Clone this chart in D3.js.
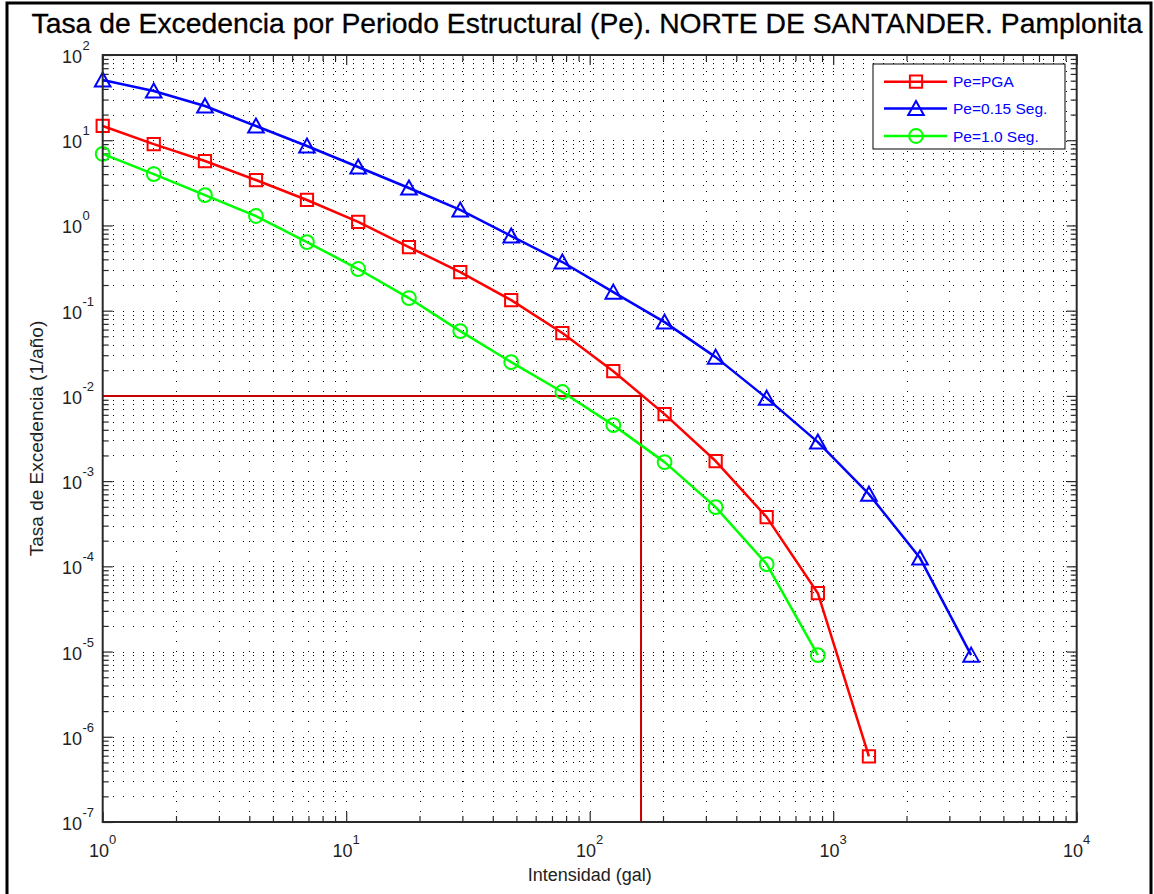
<!DOCTYPE html>
<html>
<head>
<meta charset="utf-8">
<script src="https://cdn.jsdelivr.net/npm/d3@7"></script>
<style>
  html, body { margin: 0; padding: 0; background: #fff; }
  svg { display: block; font-family: "Liberation Sans", Arial, sans-serif; }
</style>
</head>
<body>
<svg id="chart" width="1154" height="894"></svg>
<script>
// Intensity levels (gal)
const intensity = [1, 1.62, 2.63, 4.26, 6.9, 11.2, 18.1, 29.4, 47.6, 77.2, 125, 203, 329, 533, 865, 1402, 2273, 3685];

// Exceedance rates (1/año) for each structural period
const ratePGA = [14.7, 9.0, 5.7, 3.41, 1.99, 1.10, 0.557, 0.284, 0.133, 0.0546, 0.0195, 0.00611, 0.00172, 0.000378, 4.84e-5, 5.9e-7];
const rate015 = [50.9, 37.8, 25.2, 14.7, 8.55, 4.85, 2.75, 1.52, 0.751, 0.372, 0.165, 0.0734, 0.0285, 0.00941, 0.00287, 0.000703, 0.000125, 9.08e-6];
const rate10 = [6.9, 4.01, 2.27, 1.29, 0.638, 0.308, 0.1406, 0.0576, 0.0249, 0.0111, 0.00454, 0.00167, 0.000495, 0.000106, 9.08e-6];

const seriesNames = ["Pe=PGA", "Pe=0.15 Seg.", "Pe=1.0 Seg."];
const seriesColors = ["#ff0000", "#0000ff", "#00ff00"];
const seriesMarkers = ["square", "triangle", "circle"];

// Design reference: rate 0.01 1/año and its intensity
const refRate = 0.01;
const refIntensity = 162.5;

// Decade tick exponents
const xExponents = [0, 1, 2, 3, 4];
const yExponents = [2, 1, 0, -1, -2, -3, -4, -5, -6, -7];

const titleText = "Tasa de Excedencia por Periodo Estructural (Pe). NORTE DE SANTANDER. Pamplonita";
const xLabelText = "Intensidad (gal)";
const yLabelText = "Tasa de Excedencia (1/año)";

const svg = d3.select("#chart");
const L = 102.7, R = 1076.7, T = 55, B = 822;

const x = d3.scaleLog().domain([1, 1e4]).range([L, R]);
const y = d3.scaleLog().domain([1e-7, 1e2]).range([B, T]);

// outer figure frame
svg.append("path")
  .attr("d", "M7,900 L7,3 L1151,3 L1151,900")
  .attr("fill", "none").attr("stroke", "#000").attr("stroke-width", 3);

// minor/major tick values
const xMinor = [], yMinor = [];
for (let e = 0; e < 4; e++) for (let k = 2; k <= 9; k++) xMinor.push(k * Math.pow(10, e));
for (let e = -7; e < 2; e++) for (let k = 2; k <= 9; k++) yMinor.push(k * Math.pow(10, e));
const xMajor = xExponents.map(e => Math.pow(10, e));
const yMajor = yExponents.map(e => Math.pow(10, e));

// dotted grid
const grid = svg.append("g").attr("stroke", "#000").attr("stroke-width", 1)
  .attr("stroke-dasharray", "1,9").attr("shape-rendering", "crispEdges");
grid.selectAll("line.gx").data(xMinor.concat(xMajor.slice(1, -1))).join("line")
  .attr("x1", d => Math.round(x(d)) + 0.5).attr("x2", d => Math.round(x(d)) + 0.5)
  .attr("y1", B).attr("y2", T);
grid.selectAll("line.gy").data(yMinor.concat(yMajor.slice(1, -1))).join("line")
  .attr("y1", d => Math.round(y(d)) + 0.5).attr("y2", d => Math.round(y(d)) + 0.5)
  .attr("x1", L).attr("x2", R);

// axes with inward ticks on all four sides
function drawAxis(gen, transform) {
  const g = svg.append("g").attr("transform", transform);
  g.call(gen);
  g.selectAll("text").remove();
  g.select(".domain").remove();
  g.selectAll("line").attr("stroke", "#2a2a2a").attr("stroke-width", 1.2);
  return g;
}
drawAxis(d3.axisBottom(x).tickValues(xMajor).tickSize(-10), `translate(0,${B})`);
drawAxis(d3.axisBottom(x).tickValues(xMinor).tickSize(-6), `translate(0,${B})`);
drawAxis(d3.axisTop(x).tickValues(xMajor).tickSize(-10), `translate(0,${T})`);
drawAxis(d3.axisTop(x).tickValues(xMinor).tickSize(-6), `translate(0,${T})`);
drawAxis(d3.axisLeft(y).tickValues(yMajor).tickSize(-10), `translate(${L},0)`);
drawAxis(d3.axisLeft(y).tickValues(yMinor).tickSize(-6), `translate(${L},0)`);
drawAxis(d3.axisRight(y).tickValues(yMajor).tickSize(-10), `translate(${R},0)`);
drawAxis(d3.axisRight(y).tickValues(yMinor).tickSize(-6), `translate(${R},0)`);

// reference lines
const refColor = "#c80000";
svg.append("path")
  .attr("d", `M${L},${y(refRate)} L${x(refIntensity)},${y(refRate)} L${x(refIntensity)},${B}`)
  .attr("fill", "none").attr("stroke", refColor).attr("stroke-width", 2);

// series
const seriesData = [ratePGA, rate015, rate10];
const line = d3.line().x(d => x(d[0])).y(d => y(d[1]));
const sym = {
  square: d3.symbol().type(d3.symbolSquare).size(150),
  circle: d3.symbol().type(d3.symbolCircle).size(150)
};
function markerPath(kind) {
  if (kind === "triangle") {
    // triangle centered on data point
    return "M0,-7.5 L7.8,6.5 L-7.8,6.5 Z";
  }
  return sym[kind]();
}

seriesData.forEach((vals, i) => {
  const pts = vals.map((v, j) => [intensity[j], v]);
  const g = svg.append("g");
  g.append("path").datum(pts).attr("d", line)
    .attr("fill", "none").attr("stroke", seriesColors[i]).attr("stroke-width", 2.5)
    .attr("stroke-linejoin", "round");
  g.selectAll("path.m").data(pts).join("path")
    .attr("class", "m")
    .attr("transform", d => `translate(${x(d[0])},${y(d[1])})`)
    .attr("d", markerPath(seriesMarkers[i]))
    .attr("fill", "none").attr("stroke", seriesColors[i]).attr("stroke-width", 2);
});

// axis box
svg.append("rect").attr("x", L).attr("y", T).attr("width", R - L).attr("height", B - T)
  .attr("fill", "none").attr("stroke", "#2a2a2a").attr("stroke-width", 2);

// x tick labels
const xl = svg.append("g").attr("fill", "#222");
xExponents.forEach(e => {
  const t = xl.append("text").attr("x", x(Math.pow(10, e))).attr("y", 857)
    .attr("text-anchor", "middle").attr("font-size", 18);
  t.append("tspan").text("10");
  t.append("tspan").attr("dy", -13).attr("font-size", 13).text(String(e));
});
// y tick labels
yExponents.forEach(e => {
  const ty = y(Math.pow(10, e));
  xl.append("text").attr("x", 82).attr("y", ty + 8).attr("text-anchor", "end")
    .attr("font-size", 18).text("10");
  xl.append("text").attr("x", 82.5).attr("y", ty - 5).attr("text-anchor", "start")
    .attr("font-size", 13).text(String(e));
});

// title and axis labels
svg.append("text").attr("x", 587).attr("y", 33).attr("text-anchor", "middle")
  .attr("font-size", 28.3).attr("fill", "#000").attr("stroke", "#000").attr("stroke-width", 0.3)
  .text(titleText);
svg.append("text").attr("x", (L + R) / 2).attr("y", 881).attr("text-anchor", "middle")
  .attr("font-size", 18).attr("fill", "#222").text(xLabelText);
svg.append("text").attr("transform", `translate(43,${(T + B) / 2}) rotate(-90)`)
  .attr("text-anchor", "middle").attr("font-size", 19).attr("fill", "#222").text(yLabelText);

// legend
const lg = svg.append("g");
lg.append("rect").attr("x", 873).attr("y", 64).attr("width", 192).attr("height", 85)
  .attr("fill", "#fff").attr("stroke", "#000").attr("stroke-width", 1);
const legendY = [81.7, 108.5, 136];
seriesNames.forEach((name, i) => {
  const ly = legendY[i];
  lg.append("line").attr("x1", 884).attr("x2", 947).attr("y1", ly).attr("y2", ly)
    .attr("stroke", seriesColors[i]).attr("stroke-width", 2.5);
  lg.append("path").attr("transform", `translate(916,${ly})`)
    .attr("d", markerPath(seriesMarkers[i]))
    .attr("fill", "none").attr("stroke", seriesColors[i]).attr("stroke-width", 2);
  lg.append("text").attr("x", 953).attr("y", ly + 5.5).attr("font-size", 15.5)
    .attr("fill", "#0000ff").text(name);
});
</script>
</body>
</html>
